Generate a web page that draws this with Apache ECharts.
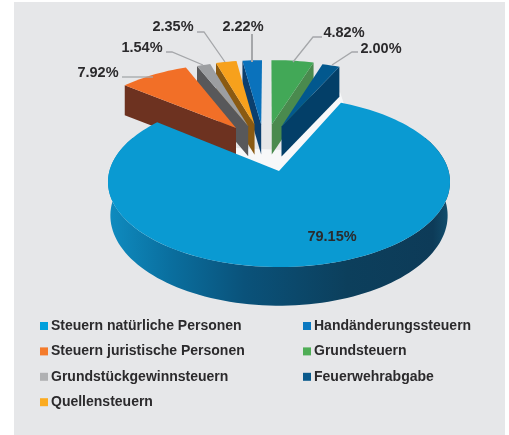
<!DOCTYPE html>
<html>
<head>
<meta charset="utf-8">
<style>
  html, body { margin: 0; padding: 0; background: #fff; }
  #main { width: 509px; height: 435px; }
</style>
<script src="https://cdn.jsdelivr.net/npm/echarts@6/dist/echarts.min.js"></script>
</head>
<body>
<div id="main"></div>
<script>
const categories = [
  'Steuern natürliche Personen',
  'Steuern juristische Personen',
  'Grundstückgewinnsteuern',
  'Quellensteuern',
  'Handänderungssteuern',
  'Grundsteuern',
  'Feuerwehrabgabe'
];
const values = [79.15, 7.92, 1.54, 2.35, 2.22, 4.82, 2.0];
const valueLabels = ['79.15%', '7.92%', '1.54%', '2.35%', '2.22%', '4.82%', '2.00%'];

const legendColors = ['#00a0dc', '#f47b2b', '#b0b1b3', '#fbab20', '#0a78c0', '#4fae56', '#0a5a8c'];
const topColors = ['#0a9ad2', '#f26f27', '#9c9ea1', '#f7a11c', '#0a72bc', '#42a857', '#02588e'];
const wallColors = ['', '#6d3220', '#58585a', '#8a5a12', '#0b3f6e', '#4a8a4e', '#033f68'];

// how far each slice is pulled out on the pie's plane
const explode = [[0, 0], [-0.2715, 0.551], [-0.195, 0.575], [-0.155, 0.595], [-0.113, 0.6], [-0.046, 0.6], [0.016, 0.572]];
const zOrder = [8, 7, 6, 5, 4, 4, 5];
// which cut face of the slice is seen: start or end
const wallSide = ['', 'start', 'start', 'start', 'start', 'end', 'end'];

const labelPos = [[332, 237], [98, 73], [142, 48], [173, 27], [243, 27], [344, 33], [381, 49]];
const leaders = [
  null,
  [[122, 77], [153, 77]],
  [[166, 52], [172, 52], [203, 65]],
  [[197, 32], [204, 32], [225, 62]],
  [[252, 34], [252, 62]],
  [[322, 37], [313, 37], [293, 62]],
  [[358, 52], [352, 52], [332, 65]]
];

// perspective view of the pie
const X0 = 279, Y0 = 171, A = 169.6, B = 83.6, K = 0.129;
const START_ANGLE = 24.1;
const BIG_HEIGHT = 33, SLICE_HEIGHT = 30;

const total = values.reduce((a, b) => a + b, 0);

function project(u, v) {
  const w = 1 + K * v;
  return [X0 + A * u / w, Y0 - B * v / w];
}

function pointAt(deg, off) {
  const t = deg * Math.PI / 180;
  return project(off[0] + Math.sin(t), off[1] + Math.cos(t));
}

function sliceAngles(idx) {
  let a = START_ANGLE;
  for (let i = 0; i < idx; i++) a += values[i] / total * 360;
  return [a, a + values[idx] / total * 360];
}

function arc(a0, a1, off) {
  const pts = [];
  const n = Math.max(2, Math.ceil((a1 - a0) / 2));
  for (let i = 0; i <= n; i++) pts.push(pointAt(a0 + (a1 - a0) * i / n, off));
  return pts;
}

function drawBig(idx, children) {
  const ang = sliceAngles(idx);
  const off = explode[idx];
  const tip = project(off[0], off[1]);
  // front wall, follows the rim
  const rim = arc(Math.max(ang[0], 65), Math.min(ang[1], 295), off);
  const low = rim.map(function (p) {
    const v = (Y0 - p[1]);
    const w = B / (B + K * v);
    return [X0 + (p[0] - X0) * 0.986, p[1] + BIG_HEIGHT * w];
  }).reverse();
  children.push({
    type: 'polygon',
    shape: { points: rim.concat(low) },
    style: {
      fill: new echarts.graphic.LinearGradient(0, 0, 1, 0, [
        { offset: 0, color: '#0f8cc0' },
        { offset: 0.18, color: '#0a6f9f' },
        { offset: 0.4, color: '#0a527a' },
        { offset: 0.7, color: '#0c3f5c' },
        { offset: 0.95, color: '#0d3b58' },
        { offset: 1, color: '#12506f' }
      ])
    }
  });
  const face = arc(ang[0], ang[1], off);
  children.push({
    type: 'polygon',
    shape: { points: [tip].concat(face) },
    style: { fill: topColors[idx] }
  });
}

function drawSlice(idx, children) {
  const ang = sliceAngles(idx);
  const off = explode[idx];
  const tip = project(off[0], off[1]);
  const face = arc(ang[0], ang[1], off);
  const edge = wallSide[idx] === 'start' ? face[0] : face[face.length - 1];
  children.push({
    type: 'polygon',
    shape: {
      points: [tip, edge, [edge[0], edge[1] + SLICE_HEIGHT], [tip[0], tip[1] + SLICE_HEIGHT]]
    },
    style: { fill: wallColors[idx] }
  });
  children.push({
    type: 'polygon',
    shape: { points: [tip].concat(face) },
    style: { fill: topColors[idx] }
  });
}

function renderSlice(params, api) {
  const idx = params.seriesIndex;
  const children = [];
  if (idx === 0) drawBig(idx, children);
  else drawSlice(idx, children);
  if (leaders[idx]) {
    children.push({
      type: 'polyline',
      shape: { points: leaders[idx] },
      style: { stroke: '#a5a7aa', lineWidth: idx === 4 ? 2 : 1.3, fill: null }
    });
  }
  children.push({
    type: 'text',
    style: {
      text: valueLabels[idx],
      x: labelPos[idx][0],
      y: labelPos[idx][1],
      align: 'center',
      verticalAlign: 'middle',
      fill: '#2b2a2c',
      font: 'bold 14.5px "Liberation Sans", Arial, sans-serif'
    }
  });
  return { type: 'group', children: children };
}

const legendBase = {
  orient: 'vertical',
  icon: 'rect',
  itemWidth: 8,
  itemHeight: 8,
  itemGap: 11.4,
  padding: 0,
  selectedMode: false,
  textStyle: {
    color: '#2b2a2c',
    fontFamily: '"Liberation Sans", Arial, sans-serif',
    fontWeight: 'bold',
    fontSize: 14,
    padding: [0, 0, 0, -2]
  }
};

const option = {
  backgroundColor: '#ffffff',
  animation: false,
  graphic: [
    // the grey panel
    { type: 'rect', z: -2, silent: true, shape: { x: 14, y: 2, width: 491, height: 433 }, style: { fill: '#e6e7e9' } },
    // pale band showing through the notch of the big slice
    {
      type: 'polygon', z: -1, silent: true,
      shape: { points: [[236, 148], [236, 156], [279, 175], [344, 104], [340, 92], [283, 150]] },
      style: { fill: '#f7f8f9' }
    }
  ],
  legend: [
    Object.assign({}, legendBase, { left: 40, top: 319, data: categories.slice(0, 4) }),
    Object.assign({}, legendBase, { left: 303, top: 319, data: categories.slice(4) })
  ],
  series: categories.map(function (name, i) {
    return {
      type: 'custom',
      name: name,
      coordinateSystem: 'none',
      silent: true,
      z: zOrder[i],
      itemStyle: { color: legendColors[i] },
      renderItem: renderSlice,
      data: [[values[i]]]
    };
  })
};

const chart = echarts.init(document.getElementById('main'), null, { renderer: 'canvas' });
chart.setOption(option);
</script>
</body>
</html>
